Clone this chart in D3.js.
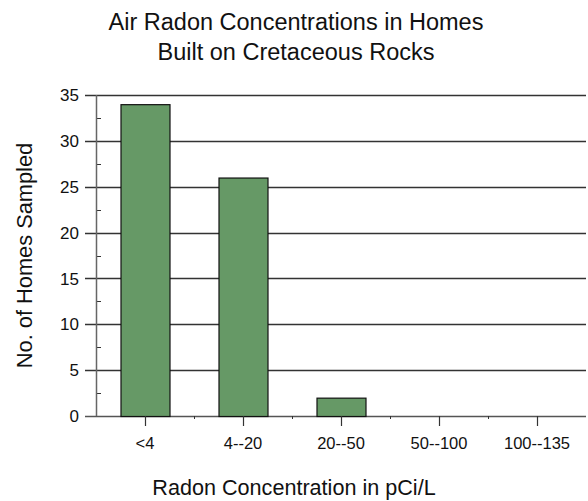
<!DOCTYPE html>
<html>
<head>
<meta charset="utf-8">
<script src="https://cdn.jsdelivr.net/npm/d3@7"></script>
<style>
  body { margin: 0; background: #fff; }
  text { font-family: "Liberation Sans", Arial, sans-serif; fill: #111; }
</style>
</head>
<body>
<script>
var categories = ["<4", "4--20", "20--50", "50--100", "100--135"];
var homes = [34, 26, 2, 0, 0];
var yTicks = [0, 5, 10, 15, 20, 25, 30, 35];
var yMinor = [2.5, 7.5, 12.5, 17.5, 22.5, 27.5, 32.5];

var width = 588, height = 501;
var margin = { top: 95, right: 2, bottom: 85, left: 96 };
var innerW = width - margin.left - margin.right,
  innerH = height - margin.top - margin.bottom;

var svg = d3.select("body").append("svg")
  .attr("width", width)
  .attr("height", height);

var g = svg.append("g")
  .attr("transform", "translate(" + margin.left + "," + margin.top + ")");

var x = d3.scaleBand().domain(categories).range([0, innerW]).paddingInner(0.5).paddingOuter(0.25);
var xOuter = d3.scaleBand().domain(categories).range([0, innerW]);
var y = d3.scaleLinear().domain([0, 35]).range([innerH, 0]);

// gridlines
g.selectAll(".grid").data(yTicks).enter().append("line")
  .attr("x1", -11).attr("x2", innerW)
  .attr("y1", function (d) { return Math.round(y(d)) + 0.5; })
  .attr("y2", function (d) { return Math.round(y(d)) + 0.5; })
  .attr("stroke", function (d) { return d === 0 ? "#555" : "#333"; })
  .attr("stroke-width", 1.4);

// minor y ticks
g.selectAll(".minor").data(yMinor).enter().append("line")
  .attr("x1", 0).attr("x2", 5)
  .attr("y1", function (d) { return Math.round(y(d)) + 0.5; })
  .attr("y2", function (d) { return Math.round(y(d)) + 0.5; })
  .attr("stroke", "#333").attr("stroke-width", 1);

// y axis line
g.append("line")
  .attr("x1", 0.5).attr("x2", 0.5)
  .attr("y1", 0).attr("y2", innerH)
  .attr("stroke", "#666").attr("stroke-width", 1.5);

// y tick labels
g.selectAll(".ylab").data(yTicks).enter().append("text")
  .attr("x", -17)
  .attr("y", function (d) { return y(d); })
  .attr("dy", "0.36em")
  .attr("text-anchor", "end")
  .style("font-size", "17px")
  .text(function (d) { return d; });

// bars
g.selectAll(".bar").data(homes).enter().append("rect")
  .attr("x", function (d, i) { return x(categories[i]) + 0.5; })
  .attr("y", function (d) { return y(d) + 0.5; })
  .attr("width", x.bandwidth())
  .attr("height", function (d) { return innerH - y(d); })
  .attr("fill", "#669966")
  .attr("stroke", "#111")
  .attr("stroke-width", 1.2);

// x major ticks
g.selectAll(".xtick").data(categories).enter().append("line")
  .attr("x1", function (d) { return Math.round(xOuter(d) + xOuter.bandwidth() / 2) + 0.5; })
  .attr("x2", function (d) { return Math.round(xOuter(d) + xOuter.bandwidth() / 2) + 0.5; })
  .attr("y1", innerH).attr("y2", innerH + 10)
  .attr("stroke", "#333").attr("stroke-width", 1.2);

// x minor ticks at boundaries
g.selectAll(".xminor").data(categories.slice(1)).enter().append("line")
  .attr("x1", function (d) { return Math.round(xOuter(d)) + 0.5; })
  .attr("x2", function (d) { return Math.round(xOuter(d)) + 0.5; })
  .attr("y1", innerH).attr("y2", innerH + 3)
  .attr("stroke", "#333").attr("stroke-width", 1);

// x tick labels
g.selectAll(".xlab").data(categories).enter().append("text")
  .attr("x", function (d) { return xOuter(d) + xOuter.bandwidth() / 2; })
  .attr("y", innerH + 33)
  .attr("text-anchor", "middle")
  .style("font-size", "16.5px")
  .text(function (d) { return d; });

// titles
svg.append("text")
  .attr("x", 296).attr("y", 30)
  .attr("text-anchor", "middle")
  .style("font-size", "23.5px")
  .text("Air Radon Concentrations in Homes");
svg.append("text")
  .attr("x", 296).attr("y", 60)
  .attr("text-anchor", "middle")
  .style("font-size", "23.5px")
  .text("Built on Cretaceous Rocks");

svg.append("text")
  .attr("x", 294).attr("y", 495)
  .attr("text-anchor", "middle")
  .style("font-size", "21.6px")
  .text("Radon Concentration in pCi/L");

svg.append("text")
  .attr("transform", "translate(32," + (margin.top + innerH / 2) + ") rotate(-90)")
  .attr("text-anchor", "middle")
  .style("font-size", "21.8px")
  .text("No. of Homes Sampled");
</script>
</body>
</html>
